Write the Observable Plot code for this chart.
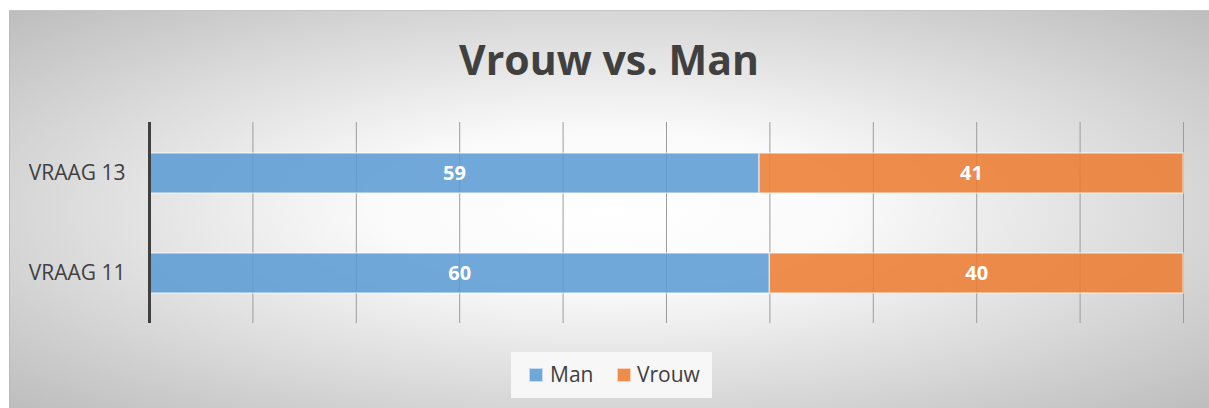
<!DOCTYPE html>
<html><head><meta charset="utf-8">
<script src="https://cdn.jsdelivr.net/npm/d3@7"></script>
<script src="https://cdn.jsdelivr.net/npm/@observablehq/plot@0.6"></script>
<style>
html,body{margin:0;padding:0;background:#fff;width:1209px;height:408px;overflow:hidden;font-family:"Open Sans",sans-serif;}
#frame{position:absolute;left:9px;top:10px;width:1200px;height:398px;background:radial-gradient(ellipse farthest-corner at 50% 50%, #ffffff 0%, #fafafa 28%, #bdbdbd 100%);}
#frame::before{content:"";position:absolute;left:0;top:0;width:1200px;height:1px;background:#c6c6c6;}
#frame::after{content:"";position:absolute;left:0;top:0;width:1px;height:398px;background:#bbbbbb;}
#title{position:absolute;left:0;top:29px;width:1200px;text-align:center;font-weight:700;font-size:41px;line-height:41px;color:#404040;}
#chart{position:absolute;left:0;top:100px;}
#legend{position:absolute;left:502px;top:342px;width:201px;height:46px;background:#f7f7f7;}
.sw{position:absolute;top:16px;width:12px;height:12px;border:1px solid rgba(255,255,255,0.6);}
.lt{position:absolute;top:12px;font-size:21px;line-height:20px;color:#404040;}
</style></head>
<body>
<div id="frame">
  <div id="title"></div>
  <div id="chart"></div>
  <div id="legend"></div>
</div>
<script>
const titleText = "Vrouw vs. Man";
const questions = ["VRAAG 13", "VRAAG 11"];
const manValues = [59, 60];
const vrouwValues = [41, 40];
const seriesNames = ["Man", "Vrouw"];
const seriesColors = ["#5B9BD5", "#ED7D31"];
const xTicks = [0, 10, 20, 30, 40, 50, 60, 70, 80, 90, 100];

document.getElementById("title").textContent = titleText;

const data = questions.flatMap((q, i) => [
  {q, s: seriesNames[0], v: manValues[i]},
  {q, s: seriesNames[1], v: vrouwValues[i]}
]);

const chart = Plot.plot({
  width: 1200, height: 225,
  marginLeft: 140, marginRight: 26, marginTop: 12, marginBottom: 12,
  style: {background: "transparent", color: "#404040", fontFamily: "Open Sans", fontSize: "21px", overflow: "visible"},
  x: {domain: [0, 100], axis: null},
  y: {domain: questions, paddingInner: 0.6, paddingOuter: 0.3, axis: null},
  color: {domain: seriesNames, range: seriesColors},
  marks: [
    Plot.gridX(xTicks, {stroke: "#9c9c9c", strokeOpacity: 1, strokeWidth: 1}),
    Plot.barX(data, Plot.stackX({x: "v", y: "q", fill: "s", fillOpacity: 0.87, stroke: "#ffffff", strokeOpacity: 0.55, strokeWidth: 1.5})),
    Plot.text(data, Plot.stackX({x: "v", y: "q", text: d => String(d.v), fill: "white", fontWeight: "bold", fontSize: 20})),
    Plot.ruleX([0], {stroke: "#404040", strokeWidth: 3}),
    Plot.axisY({tickSize: 0, tickPadding: 24, fontSize: 21, label: null})
  ]
});
document.getElementById("chart").appendChild(chart);

const legend = document.getElementById("legend");
const swX = [18, 106], txX = [39, 126];
seriesNames.forEach((name, i) => {
  const sw = document.createElement("div");
  sw.className = "sw";
  sw.style.left = swX[i] + "px";
  sw.style.background = d3.color(seriesColors[i]).copy({opacity: 0.87}).formatRgb();
  legend.appendChild(sw);
  const t = document.createElement("div");
  t.className = "lt";
  t.style.left = txX[i] + "px";
  t.textContent = name;
  legend.appendChild(t);
});
</script>
</body></html>
